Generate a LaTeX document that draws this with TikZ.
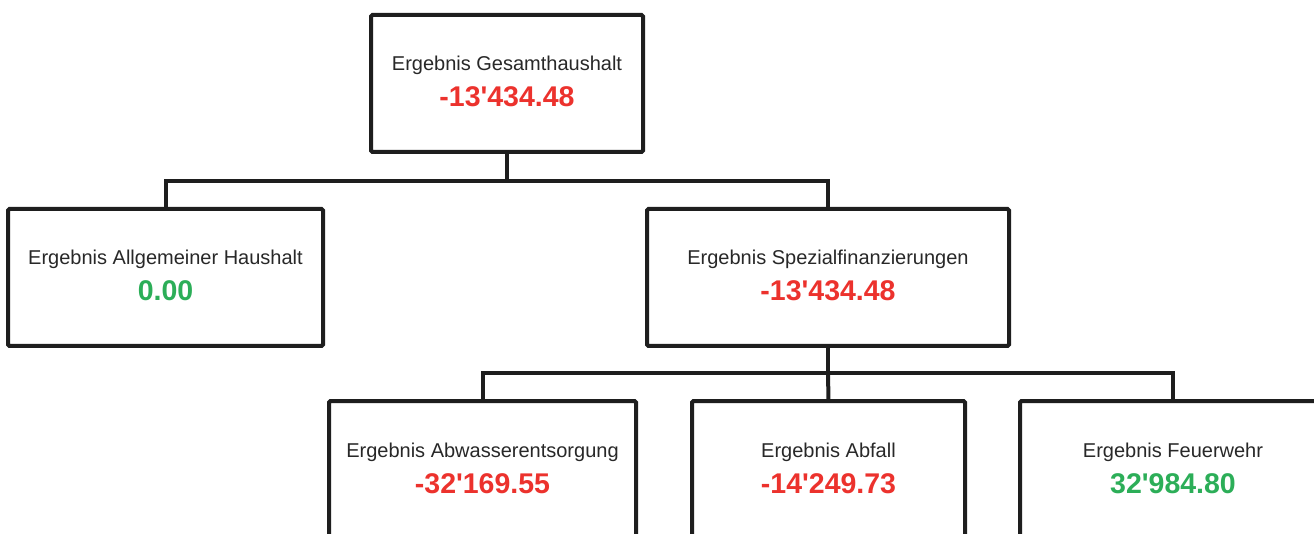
\documentclass[tikz,border=0pt]{standalone}
\usepackage{fontspec}
\setmainfont{Liberation Sans}[Ligatures=TeXOff]
\usetikzlibrary{calc}
\definecolor{neg}{RGB}{236,50,45}
\definecolor{pos}{RGB}{44,174,88}
\definecolor{ink}{RGB}{30,30,30}
\definecolor{txt}{RGB}{40,40,40}
\begin{document}
\begin{tikzpicture}[x=1pt,y=-1pt,
  box/.style={draw=ink, line width=4pt, rounded corners=1.5pt, fill=white,
    inner sep=0pt, outer sep=0pt, minimum height=137pt},
  ttl/.style={anchor=base, inner sep=0pt, text=txt, font=\fontsize{20}{23}\selectfont},
  valneg/.style={anchor=base, inner sep=0pt, text=neg, font=\fontsize{28.5}{32}\selectfont\bfseries},
  valpos/.style={anchor=base, inner sep=0pt, text=pos, font=\fontsize{28.5}{32}\selectfont\bfseries},
  conn/.style={draw=ink, line width=4pt}]
\useasboundingbox (0,0) rectangle (1314,534);
\clip (0,0) rectangle (1314,534);
% boxes
\node[box, minimum width=272pt] (top)  at (507,83.5) {};
\node[box, minimum width=315pt] (alg)  at (165.5,277.5) {};
\node[box, minimum width=362pt] (spez) at (828,277.5) {};
\node[box, minimum width=307pt] (abw)  at (482.5,469.5) {};
\node[box, minimum width=273pt] (abf)  at (828.5,469.5) {};
\node[box, minimum width=306pt] (feu)  at (1173,469.5) {};
% junctions
\coordinate (j1) at (507,181);
\coordinate (j2) at (828,373);
% connectors
\draw[conn] (top.south) -- (j1);
\draw[conn] (alg.north) |- (j1) -| (spez.north);
\draw[conn] (spez.south) -- (j2);
\draw[conn] (abw.north) |- (j2) -| (feu.north);
\draw[conn] (j2) -- (abf.north);
% texts
\node[ttl] (topt) at ($(top.north)+(0,56)$) {Ergebnis Gesamthaushalt};
\node[valneg] (topv) at ($(top.north)+(0,92)$) {-13'434.48};
\node[ttl] (algt) at ($(alg.north)+(0,56)$) {Ergebnis Allgemeiner Haushalt};
\node[valpos] (algv) at ($(alg.north)+(0,92)$) {0.00};
\node[ttl] (spezt) at ($(spez.north)+(0,56)$) {Ergebnis Spezialfinanzierungen};
\node[valneg] (spezv) at ($(spez.north)+(0,92)$) {-13'434.48};
\node[ttl] (abwt) at ($(abw.north)+(0,56)$) {Ergebnis Abwasserentsorgung};
\node[valneg] (abwv) at ($(abw.north)+(0,92)$) {-32'169.55};
\node[ttl] (abft) at ($(abf.north)+(0,56)$) {Ergebnis Abfall};
\node[valneg] (abfv) at ($(abf.north)+(0,92)$) {-14'249.73};
\node[ttl] (feut) at ($(feu.north)+(0,56)$) {Ergebnis Feuerwehr};
\node[valpos] (feuv) at ($(feu.north)+(0,92)$) {32'984.80};
\end{tikzpicture}
\end{document}
